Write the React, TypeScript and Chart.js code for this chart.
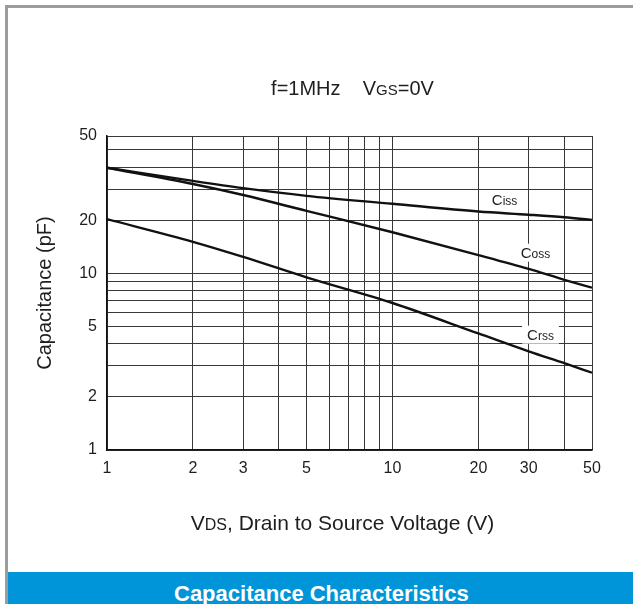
import React, { useEffect, useRef } from 'react';
import { Chart, registerables } from 'chart.js';

Chart.register(...registerables);

// ---- data ----
const voltages = [1, 2, 3, 5, 10, 20, 30, 40, 50];
const ciss = [39.7, 33.4, 30.4, 27.5, 24.8, 22.4, 21.5, 20.8, 20.1];
const coss = [39.7, 32.1, 27.8, 22.6, 17.1, 12.7, 10.6, 9.2, 8.3];
const crss = [20.3, 15.1, 12.4, 9.5, 6.8, 4.57, 3.62, 3.1, 2.74];

const seriesMain = ['C', 'C', 'C'];
const seriesSub = ['iss', 'oss', 'rss'];

const xGridValues = [1, 2, 3, 4, 5, 6, 7, 8, 9, 10, 20, 30, 40, 50];
const yGridValues = [1, 2, 3, 4, 5, 6, 7, 8, 9, 10, 20, 30, 40, 50, 60];
const xTickLabels = ['1', '2', '3', '5', '10', '20', '30', '50'];
const yTickValues = [1, 2, 5, 10, 20, 60];
const yTickLabels = ['1', '2', '5', '10', '20', '50'];

// label anchors in data coordinates (V, pF)
const labelAnchorX = [24.7, 31.7, 33];
const labelAnchorY = [26.1, 13.1, 4.5];

const FONT = '"Liberation Sans", Arial, Helvetica, sans-serif';
const TEXT = '#1e1e1e';

function drawMixed(
  ctx: CanvasRenderingContext2D,
  parts: { t: string; size: number }[],
  cx: number,
  baseline: number
) {
  let total = 0;
  const widths = parts.map((p) => {
    ctx.font = `${p.size}px ${FONT}`;
    const w = ctx.measureText(p.t).width;
    total += w;
    return w;
  });
  let x = cx - total / 2;
  parts.forEach((p, i) => {
    ctx.font = `${p.size}px ${FONT}`;
    ctx.fillText(p.t, x, baseline);
    x += widths[i];
  });
  return total;
}

const textPlugin = {
  id: 'capTexts',
  beforeDatasetsDraw(chart: any) {
    const { ctx, scales } = chart;
    ctx.save();
    ctx.textBaseline = 'alphabetic';
    ctx.textAlign = 'left';
    for (let i = 0; i < seriesMain.length; i++) {
      const px = scales.x.getPixelForValue(labelAnchorX[i]);
      const py = scales.y.getPixelForValue(labelAnchorY[i]);
      ctx.font = `15px ${FONT}`;
      const w1 = ctx.measureText(seriesMain[i]).width;
      ctx.font = `12px ${FONT}`;
      const w2 = ctx.measureText(seriesSub[i]).width;
      const w = w1 + w2;
      ctx.fillStyle = '#ffffff';
      ctx.fillRect(px - w / 2 - 5, py - 9, w + 10, 18);
      ctx.fillStyle = TEXT;
      drawMixed(
        ctx,
        [
          { t: seriesMain[i], size: 15 },
          { t: seriesSub[i], size: 12 },
        ],
        px,
        py + 5
      );
    }
    ctx.restore();
  },
  afterDraw(chart: any) {
    const { ctx, chartArea } = chart;
    const mid = (chartArea.left + chartArea.right) / 2;
    ctx.save();
    ctx.fillStyle = TEXT;
    ctx.textBaseline = 'alphabetic';
    ctx.textAlign = 'left';
    drawMixed(
      ctx,
      [
        { t: 'f=1MHz    V', size: 20 },
        { t: 'GS', size: 15 },
        { t: '=0V', size: 20 },
      ],
      mid + 3,
      95
    );
    drawMixed(
      ctx,
      [
        { t: 'V', size: 21 },
        { t: 'DS', size: 16 },
        { t: ', Drain to Source Voltage (V)', size: 21 },
      ],
      mid - 7,
      530
    );
    ctx.restore();
  },
};

export default function App() {
  const ref = useRef<HTMLCanvasElement>(null);

  useEffect(() => {
    const canvas = ref.current;
    if (!canvas) return;
    const series = [ciss, coss, crss];
    const chart = new Chart(canvas, {
      type: 'line',
      data: {
        datasets: series.map((vals, i) => ({
          label: seriesMain[i] + seriesSub[i],
          data: voltages.map((v, j) => ({ x: v, y: vals[j] })),
          borderColor: '#111111',
          borderWidth: 2.4,
          pointRadius: 0,
          fill: false,
          tension: 0.4,
          cubicInterpolationMode: 'monotone',
        })),
      },
      options: {
        animation: false,
        responsive: false,
        maintainAspectRatio: false,
        layout: { padding: { left: 0, top: 136, right: 41, bottom: 0 } },
        plugins: {
          legend: { display: false },
          tooltip: { enabled: false },
          title: { display: false },
        },
        scales: {
          x: {
            type: 'logarithmic',
            min: 1,
            max: 50,
            afterBuildTicks: (s: any) => {
              s.ticks = xGridValues.map((v) => ({ value: v }));
            },
            afterFit: (s: any) => {
              s.height = 120;
            },
            grid: { color: '#383838', lineWidth: 1, drawTicks: false },
            border: { color: '#111111', width: 1.5 },
            ticks: {
              autoSkip: false,
              maxRotation: 0,
              padding: 9,
              color: TEXT,
              font: { family: FONT, size: 16 },
              callback: (v: any) => (xTickLabels.includes(String(v)) ? String(v) : ''),
            },
          },
          y: {
            type: 'logarithmic',
            min: 1,
            max: 60,
            afterBuildTicks: (s: any) => {
              s.ticks = yGridValues.map((v) => ({ value: v }));
            },
            afterFit: (s: any) => {
              s.width = 107;
            },
            grid: { color: '#383838', lineWidth: 1, drawTicks: false },
            border: { color: '#111111', width: 1.5 },
            ticks: {
              autoSkip: false,
              padding: 10,
              color: TEXT,
              font: { family: FONT, size: 16 },
              callback: (v: any) => {
                const idx = yTickValues.indexOf(Number(v));
                return idx >= 0 ? yTickLabels[idx] : '';
              },
            },
            title: {
              display: true,
              text: 'Capacitance (pF)',
              color: TEXT,
              font: { family: FONT, size: 20 },
              padding: { top: 33, bottom: 0 },
            },
          },
        },
      } as any,
      plugins: [textPlugin],
    });
    return () => chart.destroy();
  }, []);

  return (
    <div
      style={{
        position: 'absolute',
        left: 0,
        top: 0,
        width: 633,
        height: 604,
        overflow: 'hidden',
        background: '#ffffff',
      }}
    >
      <div
        style={{
          position: 'absolute',
          left: 5,
          top: 5,
          width: 640,
          height: 640,
          borderTop: '3px solid #9c9c9c',
          borderLeft: '3px solid #9c9c9c',
        }}
      />
      <canvas
        ref={ref}
        width={633}
        height={570}
        style={{ position: 'absolute', left: 0, top: 0, width: 633, height: 570 }}
      />
      <div
        style={{
          position: 'absolute',
          left: 8,
          top: 572,
          width: 640,
          height: 40,
          background: '#0095d8',
        }}
      />
      <div
        style={{
          position: 'absolute',
          left: 174,
          top: 581,
          color: '#ffffff',
          fontFamily: FONT,
          fontWeight: 'bold',
          fontSize: 22,
          lineHeight: '26px',
          whiteSpace: 'nowrap',
        }}
      >
        Capacitance Characteristics
      </div>
    </div>
  );
}
